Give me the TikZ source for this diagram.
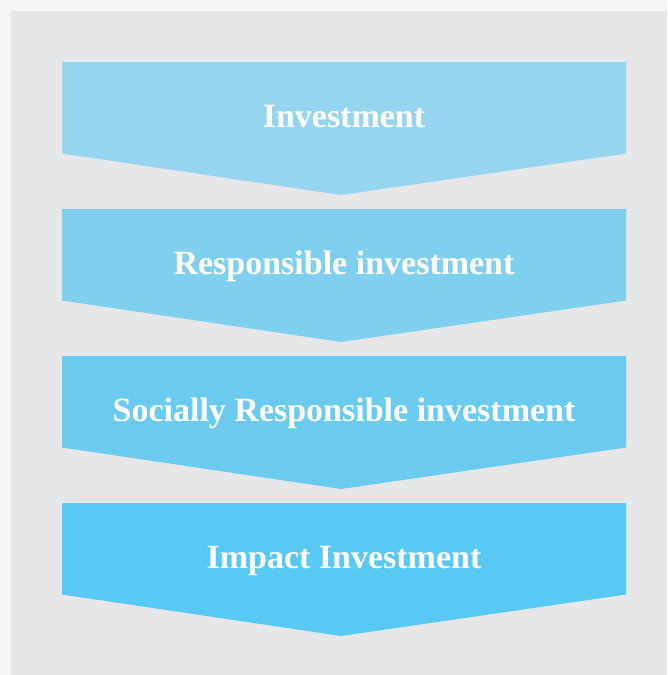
\documentclass[tikz,border=0pt]{standalone}
\usepackage{fontspec}
\setmainfont{Liberation Serif}
\definecolor{outerbg}{HTML}{F6F6F6}
\definecolor{panel}{HTML}{E6E7E9}
\definecolor{cA}{HTML}{96D5EF}
\definecolor{cB}{HTML}{7FD0EF}
\definecolor{cC}{HTML}{6ACBEF}
\definecolor{cD}{HTML}{57C9F4}
\tikzset{
  chev/.style={draw=none},
  lbl/.style={text=white, font=\bfseries\fontsize{34}{38}\selectfont, anchor=base, inner sep=0pt}
}
\begin{document}
\begin{tikzpicture}[x=1pt,y=-1pt]
\fill[outerbg] (0,0) rectangle (667,675);
\useasboundingbox (0,0) rectangle (667,675);
\fill[panel] (11,11) rectangle (667,675);
\foreach \t/\c/\n/\txt in {62/cA/a/Investment, 209/cB/b/Responsible investment, 356/cC/c/Socially Responsible investment, 503/cD/d/Impact Investment}{
  \fill[\c, chev] (62,\t) -- (626,\t) -- (626,\t+91.5) -- (341,\t+133) -- (62,\t+91.5) -- cycle;
  \node[lbl] (\n) at (344,\t+65) {\txt};
}
\end{tikzpicture}
\end{document}
